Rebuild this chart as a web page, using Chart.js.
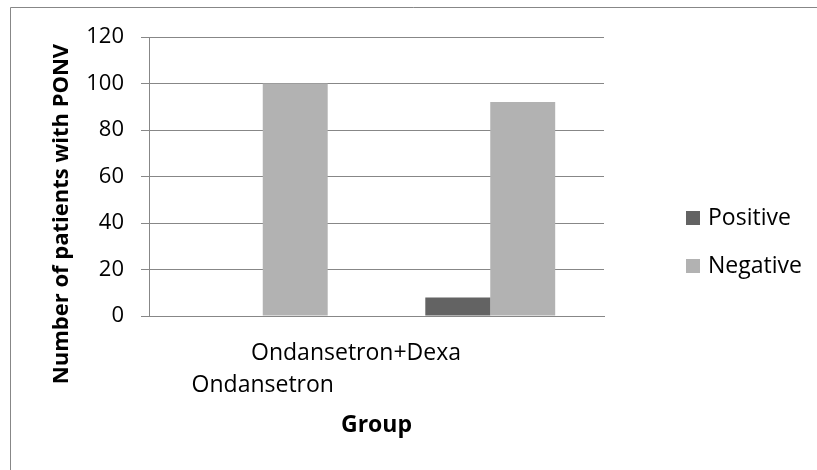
<!DOCTYPE html>
<html>
<head>
<meta charset="utf-8">
<script src="https://cdn.jsdelivr.net/npm/chart.js@4/dist/chart.umd.min.js"></script>
<style>
  html, body { margin: 0; padding: 0; background: #fff; overflow: hidden; }
  #wrap { width: 817px; height: 470px; }
</style>
</head>
<body>
<div id="wrap"><canvas id="ponv-chart" width="817" height="470"></canvas></div>
<script>
const groups = ['Ondansetron', 'Ondansetron+Dexa'];
const positive = [0, 8];
const negative = [100, 92];
const y_ticks = [0, 20, 40, 60, 80, 100, 120];

const grid_color = '#878787';
const font_family = "'Open Sans', sans-serif";

// Excel-like extras: outer frame, staggered category labels, y title, legend
const excelLook = {
  id: 'excelLook',
  beforeDraw(chart) {
    const ctx = chart.ctx;
    ctx.save();
    ctx.strokeStyle = grid_color;
    ctx.lineWidth = 1;
    ctx.beginPath();
    ctx.moveTo(10.5, 470);
    ctx.lineTo(10.5, 7.5);
    ctx.lineTo(817, 7.5);
    ctx.stroke();
    ctx.restore();
  },
  afterDraw(chart) {
    const ctx = chart.ctx;
    const x = chart.scales.x;
    const step = x.getPixelForValue(1) - x.getPixelForValue(0);

    ctx.save();
    ctx.fillStyle = '#000';
    ctx.textBaseline = 'middle';
    ctx.textAlign = 'center';
    ctx.font = '23px ' + font_family;
    ctx.fillText(groups[1], x.getPixelForValue(0) + step * 0.41, 353);
    ctx.fillText(groups[0], x.getPixelForValue(0), 385);

    ctx.font = 'bold 22px ' + font_family;
    ctx.translate(62, 214);
    ctx.rotate(-Math.PI / 2);
    ctx.fillText('Number of patients with PONV', 0, 0);
    ctx.restore();

    ctx.save();
    ctx.font = '23px ' + font_family;
    ctx.textBaseline = 'middle';
    ctx.textAlign = 'left';
    chart.data.datasets.forEach((ds, i) => {
      const cy = 218 + i * 48;
      ctx.fillStyle = ds.backgroundColor;
      ctx.fillRect(686, cy - 7, 14, 14);
      ctx.fillStyle = '#000';
      ctx.fillText(ds.label, 708, cy);
    });
    ctx.restore();
  }
};

const container = document.getElementById('ponv-chart').getContext('2d');

const chart = new Chart(container, {
  type: 'bar',
  data: {
    labels: groups,
    datasets: [
      {
        label: 'Positive',
        data: positive,
        backgroundColor: '#636363',
        borderWidth: 0,
      },
      {
        label: 'Negative',
        data: negative,
        backgroundColor: '#b2b2b2',
        borderWidth: 0,
      },
    ]
  },
  options: {
    responsive: false,
    animation: false,
    categoryPercentage: 0.571,
    barPercentage: 1,
    layout: {
      padding: { left: 0, top: 37, right: 213, bottom: 0 }
    },
    plugins: {
      legend: { display: false },
      tooltip: { enabled: false },
    },
    scales: {
      x: {
        afterFit: (scale) => { scale.height = 154; },
        grid: { display: false },
        border: { display: true, color: grid_color, width: 1 },
        ticks: { display: false },
        title: {
          display: true,
          text: 'Group',
          color: '#000',
          font: { family: font_family, size: 23, weight: 'bold' },
          padding: { top: 0, bottom: 31 }
        }
      },
      y: {
        min: 0,
        max: 120,
        afterFit: (scale) => { scale.width = 149; },
        afterBuildTicks: (scale) => { scale.ticks = y_ticks.map(v => ({ value: v })); },
        grid: {
          color: grid_color,
          lineWidth: 1,
          drawTicks: true,
          tickLength: 8,
        },
        border: { display: true, color: grid_color, width: 1 },
        ticks: {
          color: '#000',
          padding: 17,
          font: { family: font_family, size: 22 },
        }
      }
    }
  },
  plugins: [excelLook]
});
</script>
</body>
</html>
